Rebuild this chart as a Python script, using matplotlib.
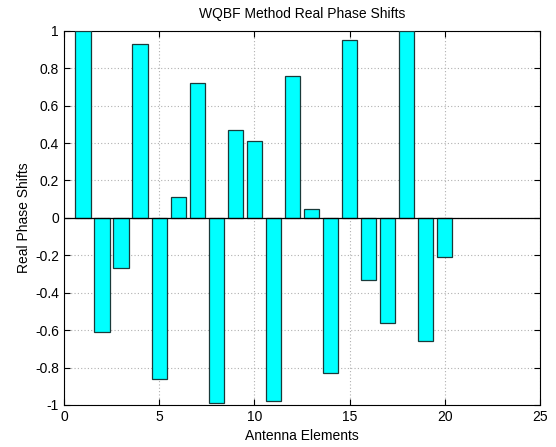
import matplotlib
matplotlib.use("Agg")
import matplotlib.pyplot as plt
import numpy as np

elements = list(range(1, 21))
phase_shifts = [1.0, -0.61, -0.27, 0.93, -0.86, 0.11, 0.72, -0.99, 0.47, 0.41,
                -0.98, 0.76, 0.05, -0.83, 0.95, -0.33, -0.56, 1.0, -0.66, -0.21]
xticks = [0, 5, 10, 15, 20, 25]
yticks = [round(v, 1) for v in np.arange(-1, 1.01, 0.2)]

plt.rcParams['font.family'] = ['Liberation Sans', 'DejaVu Sans']
fig = plt.figure(figsize=(5.56, 4.47), dpi=100)
ax = fig.add_axes([0.115, 0.094, 0.856, 0.837])

ax.bar(elements, phase_shifts, width=0.8, color='#00FFFF', edgecolor='#1a3a3a', linewidth=0.9, zorder=3)
ax.axhline(0, color='black', linewidth=0.9, zorder=4)
ax.set_xlim(0, 25)
ax.set_ylim(-1, 1)
ax.set_xticks(xticks)
ax.set_yticks(yticks)
ax.set_yticklabels([('%g' % v) if v != 0 else '0' for v in yticks])
ax.grid(True, linestyle=(0, (1, 2)), color='#b0b0b0', linewidth=0.8, zorder=0)
ax.tick_params(direction='in', top=True, right=True, labelsize=10, length=4)
ax.set_title('WQBF Method Real Phase Shifts', fontsize=10, pad=9)
ax.set_xlabel('Antenna Elements', fontsize=10, labelpad=4)
ax.set_ylabel('Real Phase Shifts', fontsize=10, labelpad=3)
for s in ax.spines.values():
    s.set_linewidth(0.8)

fig.savefig('out.png', dpi=100)
